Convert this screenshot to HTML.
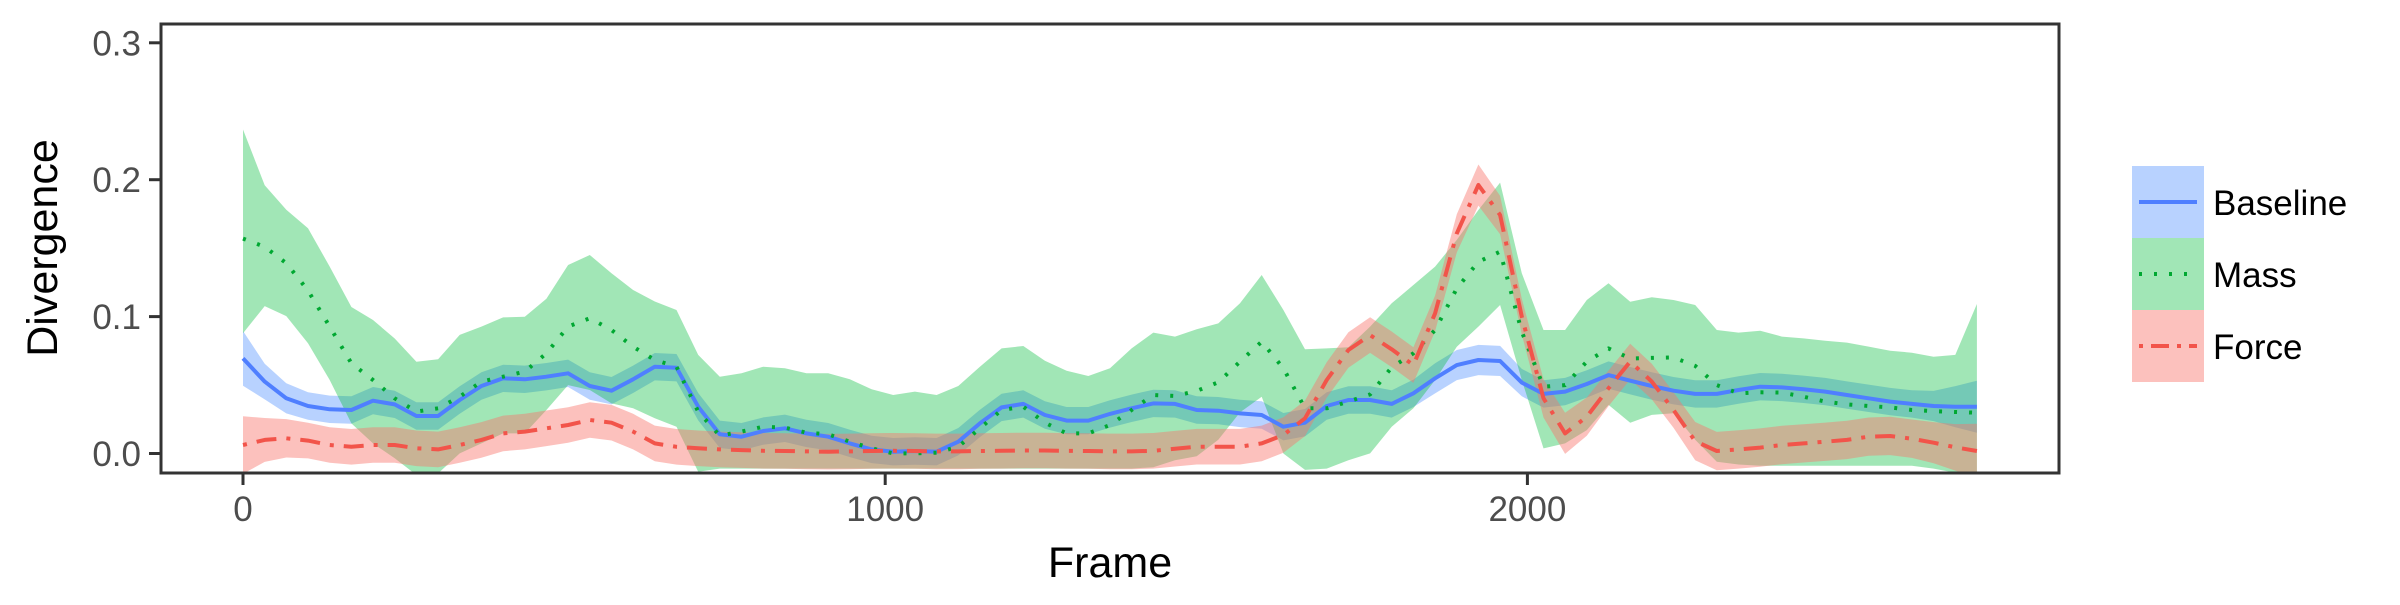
<!DOCTYPE html>
<html><head><meta charset="utf-8"><style>
html,body{margin:0;padding:0;background:#fff;}
svg text{font-family:"Liberation Sans",sans-serif;}
</style></head><body>
<svg id="chart" width="2400" height="600" viewBox="0 0 2400 600" xmlns="http://www.w3.org/2000/svg">
<g id="ribbons"></g>
<g id="lines"></g>
<rect x="161" y="24" width="1898" height="449" fill="none" stroke="#333" stroke-width="3"/>
<g id="axes"></g>
<text transform="translate(57,248) rotate(-90)" text-anchor="middle" font-size="43" fill="#000">Divergence</text>
<text x="1110" y="577" text-anchor="middle" font-size="43" fill="#000">Frame</text>
<g>
 <g>
  <rect x="2132" y="166" width="72" height="72" fill="#619CFF" fill-opacity="0.45"/>
  <line x1="2139" y1="202" x2="2197" y2="202" stroke="#4F7FFF" stroke-width="4"/>
  <text x="2213" y="215" font-size="35" fill="#000">Baseline</text>
 </g>
 <g>
  <rect x="2132" y="238" width="72" height="72" fill="#00BA38" fill-opacity="0.37"/>
  <line x1="2139" y1="274" x2="2197" y2="274" stroke="#00A832" stroke-width="4" stroke-dasharray="3,12"/>
  <text x="2213" y="287" font-size="35" fill="#000">Mass</text>
 </g>
 <g>
  <rect x="2132" y="310" width="72" height="72" fill="#F8766D" fill-opacity="0.45"/>
  <line x1="2139" y1="346" x2="2197" y2="346" stroke="#F2544A" stroke-width="4" stroke-dasharray="4,8,18,8"/>
  <text x="2213" y="359" font-size="35" fill="#000">Force</text>
 </g>
</g>
</svg>
<script>
const frameStep = 2700/80;
const baselineMean = [0.0695,0.0525,0.0403,0.0347,0.0323,0.0318,0.0386,0.0359,0.0274,0.0274,0.0391,0.0493,0.0549,0.0542,0.0561,0.0586,0.0493,0.0459,0.0542,0.0634,0.0627,0.0342,0.014,0.0123,0.0164,0.0184,0.0147,0.0123,0.0074,0.003,0.0013,0.0018,0.0013,0.0086,0.022,0.0337,0.0362,0.0281,0.024,0.024,0.0289,0.033,0.0366,0.0362,0.0318,0.0313,0.0293,0.0281,0.0196,0.0225,0.0347,0.0391,0.0391,0.0362,0.044,0.0549,0.0646,0.0683,0.0676,0.0518,0.0435,0.0452,0.0508,0.0573,0.0532,0.0493,0.0459,0.0435,0.0435,0.0464,0.0488,0.0483,0.0469,0.0452,0.0427,0.0403,0.0379,0.0362,0.0347,0.0342,0.0342];
const baselineSe = [0.02,0.013,0.011,0.01,0.01,0.01,0.01,0.01,0.01,0.01,0.01,0.01,0.01,0.01,0.01,0.01,0.01,0.01,0.01,0.01,0.01,0.01,0.01,0.01,0.01,0.01,0.01,0.01,0.01,0.01,0.01,0.01,0.01,0.01,0.01,0.01,0.01,0.01,0.01,0.01,0.01,0.01,0.01,0.01,0.01,0.01,0.01,0.01,0.01,0.01,0.01,0.01,0.01,0.01,0.01,0.011,0.011,0.011,0.011,0.01,0.01,0.01,0.01,0.01,0.01,0.01,0.01,0.01,0.01,0.01,0.01,0.01,0.01,0.01,0.01,0.01,0.01,0.01,0.011,0.015,0.019];
const massMean = [0.157,0.151,0.139,0.119,0.0927,0.0659,0.0537,0.0403,0.0306,0.033,0.0415,0.0525,0.0561,0.0598,0.0732,0.0927,0.0988,0.0902,0.078,0.0683,0.0634,0.0306,0.013,0.016,0.0196,0.0189,0.0152,0.014,0.0086,0.0038,0.0001,0.0001,0.0006,0.005,0.0184,0.0318,0.0342,0.0225,0.0147,0.0147,0.0208,0.0318,0.0427,0.042,0.0457,0.052,0.0671,0.0817,0.0622,0.033,0.033,0.0379,0.0432,0.063,0.0732,0.0902,0.1206,0.1401,0.1474,0.089,0.0488,0.05,0.0671,0.0768,0.0694,0.0698,0.0702,0.064,0.05,0.044,0.0447,0.0445,0.0415,0.0379,0.0359,0.0347,0.0337,0.0318,0.031,0.0303,0.0298];
const massHi = [0.2367,0.196,0.178,0.1645,0.1365,0.107,0.0975,0.084,0.067,0.0688,0.0866,0.0927,0.0994,0.0999,0.113,0.1377,0.145,0.1316,0.1194,0.111,0.1048,0.072,0.0561,0.0586,0.0634,0.0622,0.0586,0.0586,0.0542,0.0469,0.0427,0.0452,0.0427,0.0493,0.0634,0.0768,0.0785,0.0678,0.0605,0.0566,0.0622,0.0768,0.0883,0.0854,0.0907,0.095,0.1097,0.1304,0.1048,0.0761,0.0768,0.0776,0.0927,0.1097,0.1231,0.1365,0.156,0.1779,0.1979,0.1316,0.0902,0.0902,0.1121,0.1243,0.1109,0.1141,0.1121,0.1085,0.0902,0.0883,0.0897,0.0854,0.0841,0.0824,0.081,0.0781,0.0751,0.0736,0.0707,0.072,0.1092];
const massLo = [0.0878,0.1077,0.1004,0.0805,0.0537,0.022,0.0074,-0.0035,-0.0157,-0.0145,0.0001,0.0074,0.0147,0.0147,0.0318,0.05,0.0464,0.0366,0.033,0.0257,0.0196,-0.0133,-0.011,-0.011,-0.011,-0.011,-0.011,-0.011,-0.011,-0.011,-0.011,-0.011,-0.011,-0.011,-0.011,-0.011,-0.011,-0.011,-0.011,-0.011,-0.011,-0.011,-0.01,-0.005,-0.002,0.01,0.03,0.0415,0.0,-0.012,-0.011,-0.005,0.0001,0.0196,0.033,0.0537,0.078,0.0927,0.1085,0.0537,0.0037,0.0074,0.0171,0.0355,0.0225,0.0282,0.0294,0.01,-0.006,-0.008,-0.009,-0.009,-0.009,-0.009,-0.009,-0.009,-0.009,-0.009,-0.011,-0.014,-0.015];
const forceMean = [0.0062,0.0099,0.0111,0.0094,0.0062,0.0049,0.0062,0.0062,0.0038,0.003,0.0062,0.0099,0.0147,0.016,0.0184,0.0208,0.0245,0.0225,0.016,0.0074,0.0049,0.0038,0.003,0.0025,0.002,0.0018,0.0015,0.0013,0.0015,0.0018,0.002,0.0018,0.0015,0.0015,0.0018,0.002,0.0022,0.0022,0.002,0.0018,0.0015,0.0015,0.002,0.0035,0.005,0.005,0.005,0.0074,0.0135,0.0257,0.0537,0.0756,0.0865,0.0761,0.0646,0.1024,0.1608,0.1961,0.1742,0.1,0.0403,0.0147,0.0269,0.0476,0.0671,0.0525,0.0318,0.009,0.0018,0.003,0.0043,0.0062,0.0074,0.0086,0.0099,0.0123,0.0128,0.0108,0.0079,0.0045,0.0018];
const forceSe = [0.021,0.016,0.014,0.013,0.013,0.013,0.013,0.013,0.013,0.013,0.013,0.013,0.013,0.013,0.013,0.013,0.013,0.013,0.013,0.013,0.013,0.013,0.013,0.013,0.013,0.013,0.013,0.013,0.013,0.013,0.013,0.013,0.013,0.013,0.013,0.013,0.013,0.013,0.013,0.013,0.013,0.013,0.013,0.013,0.013,0.013,0.013,0.013,0.013,0.013,0.013,0.013,0.013,0.013,0.013,0.013,0.014,0.015,0.014,0.013,0.014,0.015,0.014,0.013,0.013,0.013,0.013,0.014,0.014,0.014,0.014,0.014,0.014,0.014,0.014,0.014,0.014,0.014,0.015,0.017,0.02];
const yTicks = [0.0,0.1,0.2,0.3];
const yTickLabels = ["0.0","0.1","0.2","0.3"];
const xTicks = [0,1000,2000];
const xTickLabels = ["0","1000","2000"];

const NS="http://www.w3.org/2000/svg";
const X0=243, XPER=0.6422, Y0=453.5, YPER=1369;
function xs(f){return X0+f*XPER;}
function ys(v){return Y0-v*YPER;}
function mk(tag,attrs,parent){const e=document.createElementNS(NS,tag);for(const k in attrs)e.setAttribute(k,attrs[k]);parent.appendChild(e);return e;}

const clip=mk('clipPath',{id:'pc'},document.getElementById('chart'));
mk('rect',{x:161,y:24,width:1898,height:449},clip);

const rib=document.getElementById('ribbons'); rib.setAttribute('clip-path','url(#pc)');
const lin=document.getElementById('lines'); lin.setAttribute('clip-path','url(#pc)');

function ribbon(lo,hi,color,op,name){
  let up=[],dn=[];
  for(let i=0;i<hi.length;i++) up.push(xs(i*frameStep).toFixed(1)+','+ys(hi[i]).toFixed(1));
  for(let i=lo.length-1;i>=0;i--) dn.push(xs(i*frameStep).toFixed(1)+','+ys(lo[i]).toFixed(1));
  const p=mk('polygon',{points:up.concat(dn).join(' '),fill:color,'fill-opacity':op},rib);
  
  
}
function line(vals,color,dash,name){
  const pts=vals.map((v,i)=>xs(i*frameStep).toFixed(1)+','+ys(v).toFixed(1)).join(' ');
  const attrs={points:pts,fill:'none',stroke:color,'stroke-width':4,'stroke-linejoin':'round'};
  if(dash)attrs['stroke-dasharray']=dash;
  const p=mk('polyline',attrs,lin);
  
  
}
ribbon(baselineMean.map((m,i)=>m-baselineSe[i]),baselineMean.map((m,i)=>m+baselineSe[i]),'#619CFF',0.45,'baseline-ribbon');
ribbon(massLo,massHi,'#00BA38',0.37,'mass-ribbon');
ribbon(forceMean.map((m,i)=>m-forceSe[i]),forceMean.map((m,i)=>m+forceSe[i]),'#F8766D',0.45,'force-ribbon');
line(baselineMean,'#4F7FFF',null,'baseline-line');
line(massMean,'#00A832','3,12','mass-line');
line(forceMean,'#F2544A','4,10,20,10','force-line');

const ax=document.getElementById('axes');
yTicks.forEach((v,i)=>{
  const t=mk('line',{x1:149,x2:161,y1:ys(v),y2:ys(v),stroke:'#333','stroke-width':3},ax);
  
  
  const l=mk('text',{x:141,y:ys(v)+12.5,'text-anchor':'end','font-size':35,fill:'#4d4d4d'},ax);
  l.textContent=yTickLabels[i];
  
  
});
xTicks.forEach((f,i)=>{
  const t=mk('line',{x1:xs(f),x2:xs(f),y1:473,y2:485,stroke:'#333','stroke-width':3},ax);
  
  
  const l=mk('text',{x:xs(f),y:521,'text-anchor':'middle','font-size':35,fill:'#4d4d4d'},ax);
  l.textContent=xTickLabels[i];
  
  
});
</script>
</body></html>
